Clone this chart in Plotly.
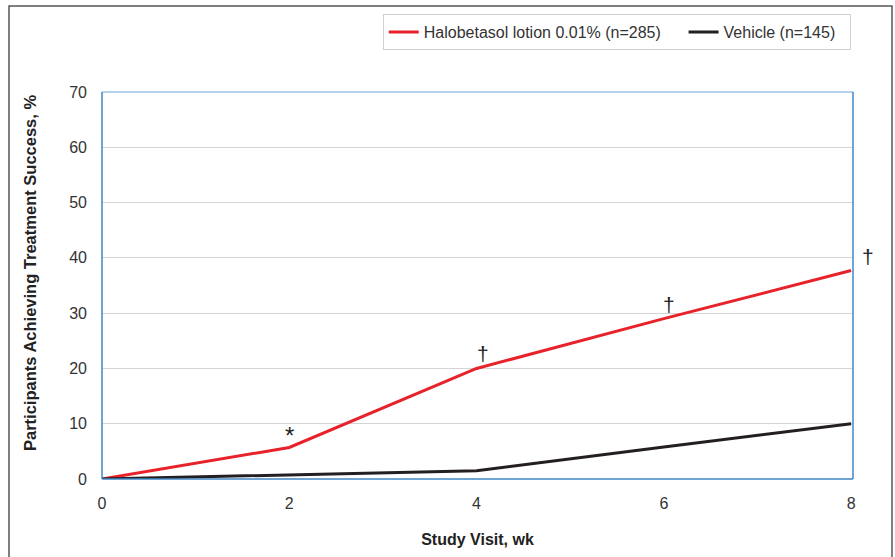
import plotly.graph_objects as go

weeks = [0, 2, 4, 6, 8]
halobetasol = [0, 5.7, 20.0, 29.0, 37.7]
vehicle = [0, 0.8, 1.5, 5.8, 10.0]
series_names = ["Halobetasol lotion 0.01% (n=285)", "Vehicle (n=145)"]
y_ticks = [0, 10, 20, 30, 40, 50, 60, 70]
x_ticks = [0, 2, 4, 6, 8]
marks = [("*", 2.0, 5.7), ("†", 4.07, 20.0), ("†", 6.05, 29.0), ("†", 8.18, 37.7)]
x_title = "Study Visit, wk"
y_title = "Participants Achieving Treatment Success, %"

X_RANGE = [0, 8.02]
Y_RANGE = [0, 70]

RED = "#e8222a"
BLACK = "#231f20"
BLUE = "#3f86c6"
FONT = "Liberation Sans, Arial, sans-serif"

fig = go.Figure()
fig.add_trace(go.Scatter(x=weeks, y=halobetasol, mode="lines",
                         name=series_names[0] + "\u00a0" * 4,
                         line=dict(color=RED, width=3)))
fig.add_trace(go.Scatter(x=weeks, y=vehicle, mode="lines",
                         name=series_names[1] + "\u00a0" * 2,
                         line=dict(color=BLACK, width=3)))

for sym, x, y in marks:
    px = (x - X_RANGE[0]) / (X_RANGE[1] - X_RANGE[0])
    py = (y - Y_RANGE[0]) / (Y_RANGE[1] - Y_RANGE[0])
    fig.add_annotation(xref="paper", yref="paper", x=px, y=py, text=sym,
                       showarrow=False, xanchor="center", yanchor="bottom",
                       yshift=1 if sym == "†" else -4,
                       font=dict(family=FONT, size=24 if sym == "*" else 21, color="#222"))

# y-axis title (placed as annotation to match vertical offset)
fig.add_annotation(xref="paper", yref="paper", x=(30 - 102) / 751, y=(479 - 273) / 387,
                   text="<b>" + y_title + "</b>", textangle=-90, showarrow=False,
                   xanchor="center", yanchor="middle",
                   font=dict(family=FONT, size=16.5, color="#222"))

# outer frame
fig.add_shape(type="rect", xref="paper", yref="paper",
              x0=(9 - 102) / 751, x1=(892 - 102) / 751,
              y0=(479 - 570) / 387, y1=(479 - 6) / 387,
              line=dict(color="#555", width=1.5), layer="below")
# plot border
fig.add_shape(type="line", xref="paper", yref="paper", x0=0, x1=1, y0=1, y1=1,
              line=dict(color="#9cc3e6", width=1.5))
fig.add_shape(type="line", xref="paper", yref="paper", x0=0, x1=0, y0=0, y1=1,
              line=dict(color=BLUE, width=1.5))
fig.add_shape(type="line", xref="paper", yref="paper", x0=1, x1=1, y0=0, y1=1,
              line=dict(color=BLUE, width=1.5))
fig.add_shape(type="line", xref="paper", yref="paper", x0=0, x1=1, y0=0, y1=0,
              line=dict(color=BLUE, width=1.5))

fig.update_layout(
    width=895, height=557,
    margin=dict(l=102, r=42, t=92, b=78),
    paper_bgcolor="white", plot_bgcolor="white",
    font=dict(family=FONT, size=16, color="#333"),
    showlegend=True,
    legend=dict(orientation="h", x=0.997, xanchor="right", y=(479 - 14) / 387, yanchor="top",
                bordercolor="#cfcfcf", borderwidth=1, bgcolor="white",
                font=dict(family=FONT, size=16, color="#333"),
                itemwidth=30, tracegroupgap=0),
    xaxis=dict(range=X_RANGE, tickvals=x_ticks, showgrid=False, zeroline=False,
               showline=False, ticks="", ticklabelstandoff=13,
               tickfont=dict(size=16),
               title=dict(text="<b>" + x_title + "</b>", standoff=22,
                          font=dict(family="Liberation Sans Narrow, Arial Narrow, " + FONT, size=16, color="#222"))),
    yaxis=dict(range=Y_RANGE, tickvals=y_ticks, showgrid=True, gridcolor="#d4d4d4", gridwidth=1,
               zeroline=False, showline=False, ticks="", ticklabelstandoff=14,
               tickfont=dict(size=16)),
)

fig.write_html("out.html")
